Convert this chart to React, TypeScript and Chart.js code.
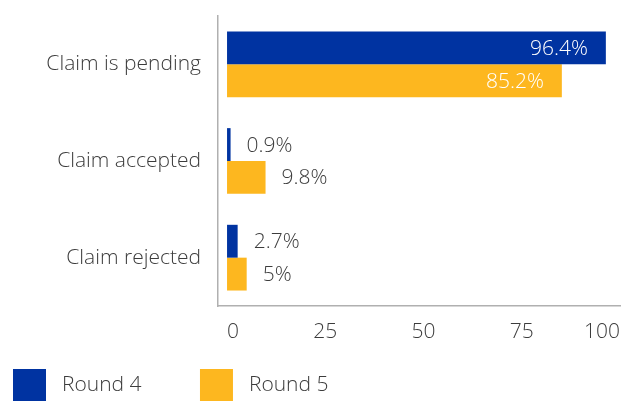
import React, { useEffect, useRef } from 'react';
import { Chart, registerables } from 'chart.js';

Chart.register(...registerables);

const categories = ['Claim is pending', 'Claim accepted', 'Claim rejected'];
const seriesNames = ['Round 4', 'Round 5'];
const round4 = [96.4, 0.9, 2.7];
const round5 = [85.2, 9.8, 5];
const xTickValues = [0, 25, 50, 75, 100];

const FONT_FAMILY = "'Open Sans', 'Noto Sans', sans-serif";
const FONT_SIZE = 21;
const TEXT_COLOR = '#3c3c3c';
const BLUE = '#0033A1';
const YELLOW = '#FDB71F';

const valueLabels = {
  id: 'valueLabels',
  afterDatasetsDraw(chart: any) {
    const ctx = chart.ctx;
    ctx.save();
    ctx.font = `300 ${FONT_SIZE}px ${FONT_FAMILY}`;
    ctx.textBaseline = 'middle';
    chart.data.datasets.forEach((ds: any, di: number) => {
      const meta = chart.getDatasetMeta(di);
      meta.data.forEach((bar: any, i: number) => {
        const v = ds.data[i];
        const text = `${v}%`;
        if (v > 50) {
          ctx.fillStyle = '#ffffff';
          ctx.textAlign = 'right';
          ctx.fillText(text, bar.x - 18, bar.y + 1);
        } else {
          ctx.fillStyle = TEXT_COLOR;
          ctx.textAlign = 'left';
          ctx.fillText(text, bar.x + 16, bar.y + 1);
        }
      });
    });
    ctx.restore();
  },
};

export default function App() {
  const canvasRef = useRef<HTMLCanvasElement | null>(null);

  useEffect(() => {
    if (!canvasRef.current) return;
    const font = { family: FONT_FAMILY, size: FONT_SIZE, weight: 300 as any };
    const chart = new Chart(canvasRef.current, {
      type: 'bar',
      data: {
        labels: categories,
        datasets: [
          { label: seriesNames[0], data: round4, backgroundColor: BLUE, borderWidth: 0 },
          { label: seriesNames[1], data: round5, backgroundColor: YELLOW, borderWidth: 0 },
        ],
      },
      options: {
        indexAxis: 'y',
        animation: false,
        responsive: true,
        maintainAspectRatio: false,
        layout: { padding: { top: 16, right: 12, bottom: 0, left: 0 } },
        datasets: { bar: { barPercentage: 1, categoryPercentage: 0.68 } },
        scales: {
          x: {
            min: -2.3,
            max: 100,
            afterBuildTicks: (scale: any) => {
              scale.ticks = xTickValues.map((v) => ({ value: v }));
            },
            afterFit: (scale: any) => {
              scale.height = 50;
              scale.paddingLeft = 0;
              scale.paddingRight = 0;
            },
            grid: { display: false, drawTicks: false },
            border: { display: true, color: '#b0b0b0', width: 1.5 },
            ticks: { font, color: TEXT_COLOR, padding: 13, align: 'inner', maxRotation: 0 },
          },
          y: {
            afterFit: (scale: any) => {
              scale.width = 218;
              scale.paddingTop = 0;
              scale.paddingBottom = 0;
            },
            grid: { display: false, drawTicks: false },
            border: { display: true, color: '#b0b0b0', width: 1.5 },
            ticks: { font, color: TEXT_COLOR, padding: 17 },
          },
        },
        plugins: {
          tooltip: { enabled: false },
          legend: {
            position: 'bottom',
            align: 'start',
            labels: {
              boxWidth: 33,
              boxHeight: 33,
              padding: 13,
              font,
              color: TEXT_COLOR,
              generateLabels: (c: any) => {
                const items = (Chart as any).defaults.plugins.legend.labels.generateLabels(c);
                return items.map((it: any, i: number) => ({
                  ...it,
                  text: ' ' + it.text + (i < items.length - 1 ? '\u2003\u2003\u2009' : ''),
                }));
              },
            },
          },
        },
      },
      plugins: [valueLabels],
    });
    return () => chart.destroy();
  }, []);

  return (
    <div style={{ position: 'fixed', left: 0, top: 0, width: 632, height: 412 }}>
      <canvas ref={canvasRef} />
    </div>
  );
}
